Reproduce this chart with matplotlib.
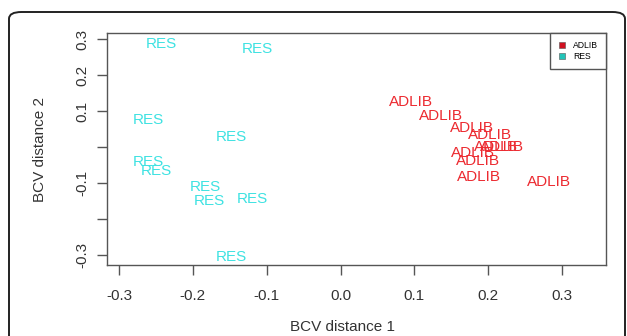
import matplotlib
matplotlib.use("Agg")
import matplotlib.pyplot as plt
from matplotlib.patches import FancyBboxPatch
from matplotlib.lines import Line2D

plt.rcParams['font.family'] = ['Liberation Sans', 'DejaVu Sans']

# Data
res_x = [-0.242, -0.113, -0.260, -0.148, -0.260, -0.249, -0.183, -0.177, -0.120, -0.148]
res_y = [0.292, 0.278, 0.079, 0.032, -0.038, -0.063, -0.105, -0.146, -0.139, -0.301]
adlib_x = [0.096, 0.136, 0.178, 0.202, 0.210, 0.219, 0.179, 0.186, 0.188, 0.282]
adlib_y = [0.129, 0.092, 0.057, 0.037, 0.006, 0.006, -0.012, -0.033, -0.079, -0.091]
x_ticks = [-0.3, -0.2, -0.1, 0.0, 0.1, 0.2, 0.3]
x_ticklabels = ['-0.3', '-0.2', '-0.1', '0.0', '0.1', '0.2', '0.3']
y_ticks = [-0.3, -0.2, -0.1, 0.0, 0.1, 0.2, 0.3]
y_ticklabels = ['-0.3', '', '-0.1', '', '0.1', '0.2', '0.3']
groups = ['ADLIB', 'RES']

W, H = 627, 336
fig = plt.figure(figsize=(W / 100, H / 100), dpi=100)

# outer rounded frame
frame = FancyBboxPatch((9 / W, (H - 12 - 340) / H), (625 - 9) / W, 340 / H,
                       boxstyle="round,pad=0,rounding_size=0.02",
                       transform=fig.transFigure, fill=False, edgecolor='#222222',
                       linewidth=1.4, clip_on=False)
fig.patches.append(frame)

ax = fig.add_axes([107 / W, (H - 265) / H, (606 - 107) / W, (265 - 33) / H])
ax.set_xlim(-0.3163, 0.3596)
ax.set_ylim(-0.327, 0.3175)

res_col = '#3ee2e2'
adlib_col = '#ec2a30'
fs = 11
for x, y in zip(res_x, res_y):
    ax.text(x, y, 'RES', color=res_col, fontsize=fs, ha='center', va='center_baseline')
for x, y in zip(adlib_x, adlib_y):
    ax.text(x, y, 'ADLIB', color=adlib_col, fontsize=fs, ha='center', va='center_baseline')

ax.set_xticks(x_ticks)
ax.set_xticklabels(x_ticklabels)
ax.set_yticks(y_ticks)
ax.set_yticklabels(y_ticklabels, rotation=90, va='center')
ax.tick_params(axis='both', length=7, width=1, color='#555555', labelsize=fs,
               labelcolor='#333333')
ax.tick_params(axis='x', pad=10)
ax.tick_params(axis='y', pad=6)
for s in ax.spines.values():
    s.set_color('#555555')
    s.set_linewidth(1)

fig.text(342 / W, (H - 327) / H, 'BCV distance 1', fontsize=fs, color='#333333',
         ha='center', va='center')
fig.text(40 / W, (H - 149) / H, 'BCV distance 2', fontsize=fs, color='#333333',
         ha='center', va='center', rotation=90)

handles = [Line2D([], [], linestyle='none', marker='s', markersize=5,
                  markerfacecolor=c, markeredgecolor='#555555', markeredgewidth=0.4)
           for c in ['#d01020', '#22c4b8']]
leg = ax.legend(handles, groups, loc='upper right', borderaxespad=0, fontsize=6.2,
                frameon=True, fancybox=False, edgecolor='#555555', handlelength=1,
                handletextpad=0.8, borderpad=0.9, labelspacing=0.3, framealpha=1)
leg.get_frame().set_linewidth(1)

fig.savefig('out.png', dpi=100)
